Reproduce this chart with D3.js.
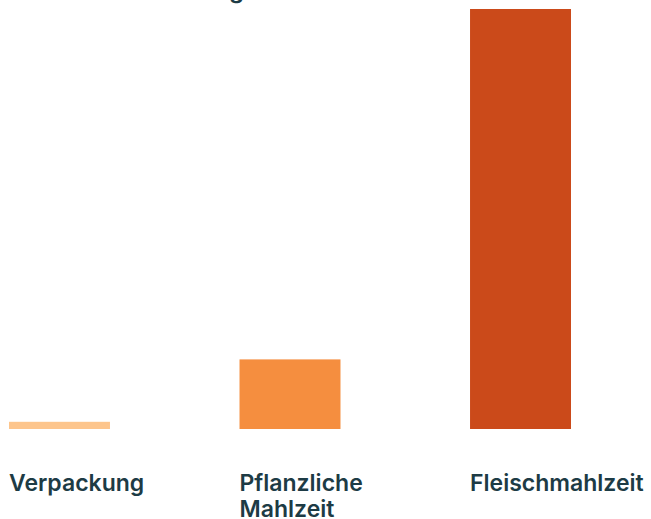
<!DOCTYPE html>
<html>
<head>
<meta charset="utf-8">
<script src="https://cdn.jsdelivr.net/npm/d3@7"></script>
<style>
  html, body { margin: 0; padding: 0; background: #fff; overflow: hidden; }
  text { font-family: Inter, "Liberation Sans", Arial, sans-serif; fill: #1d3b45; }
</style>
</head>
<body>
<svg id="chart" width="651" height="519"></svg>
<script>
const categories = ['Verpackung', 'Pflanzliche Mahlzeit', 'Fleischmahlzeit'];
const labelLines = [['Verpackung'], ['Pflanzliche', 'Mahlzeit'], ['Fleischmahlzeit']];
const values = [0.06, 0.58, 3.5];
const colors = ['#fdc58c', '#f58e3f', '#cb4a1a'];

const svg = d3.select("#chart");

const xScale = d3.scaleBand()
    .domain(categories)
    .range([9, 571])
    .paddingInner(0.562)
    .paddingOuter(0);

const yScale = d3.scaleLinear()
    .domain([0, 3.5])
    .range([429, 9]);

// title, mostly scrolled out of view
svg.append("text")
    .attr("x", 244)
    .attr("y", -2)
    .attr("text-anchor", "end")
    .attr("font-size", 24)
    .attr("font-weight", 600)
    .text("Umweltbelastung");

// bars
svg.selectAll(".bar")
    .data(categories)
    .enter()
    .append("rect")
    .attr("class", "bar")
    .attr("x", d => xScale(d))
    .attr("y", (d, i) => yScale(values[i]))
    .attr("width", xScale.bandwidth())
    .attr("height", (d, i) => yScale(0) - yScale(values[i]))
    .attr("fill", (d, i) => colors[i]);

// category labels under the bars
const labels = svg.selectAll(".label")
    .data(categories)
    .enter()
    .append("text")
    .attr("class", "label")
    .attr("x", d => xScale(d))
    .attr("y", 491)
    .attr("font-size", 23)
    .attr("font-weight", 600);

labels.each(function (d, i) {
    d3.select(this).selectAll("tspan")
        .data(labelLines[i])
        .enter()
        .append("tspan")
        .attr("x", xScale(d))
        .attr("dy", (l, j) => j === 0 ? 0 : 26)
        .text(l => l);
});
</script>
</body>
</html>
